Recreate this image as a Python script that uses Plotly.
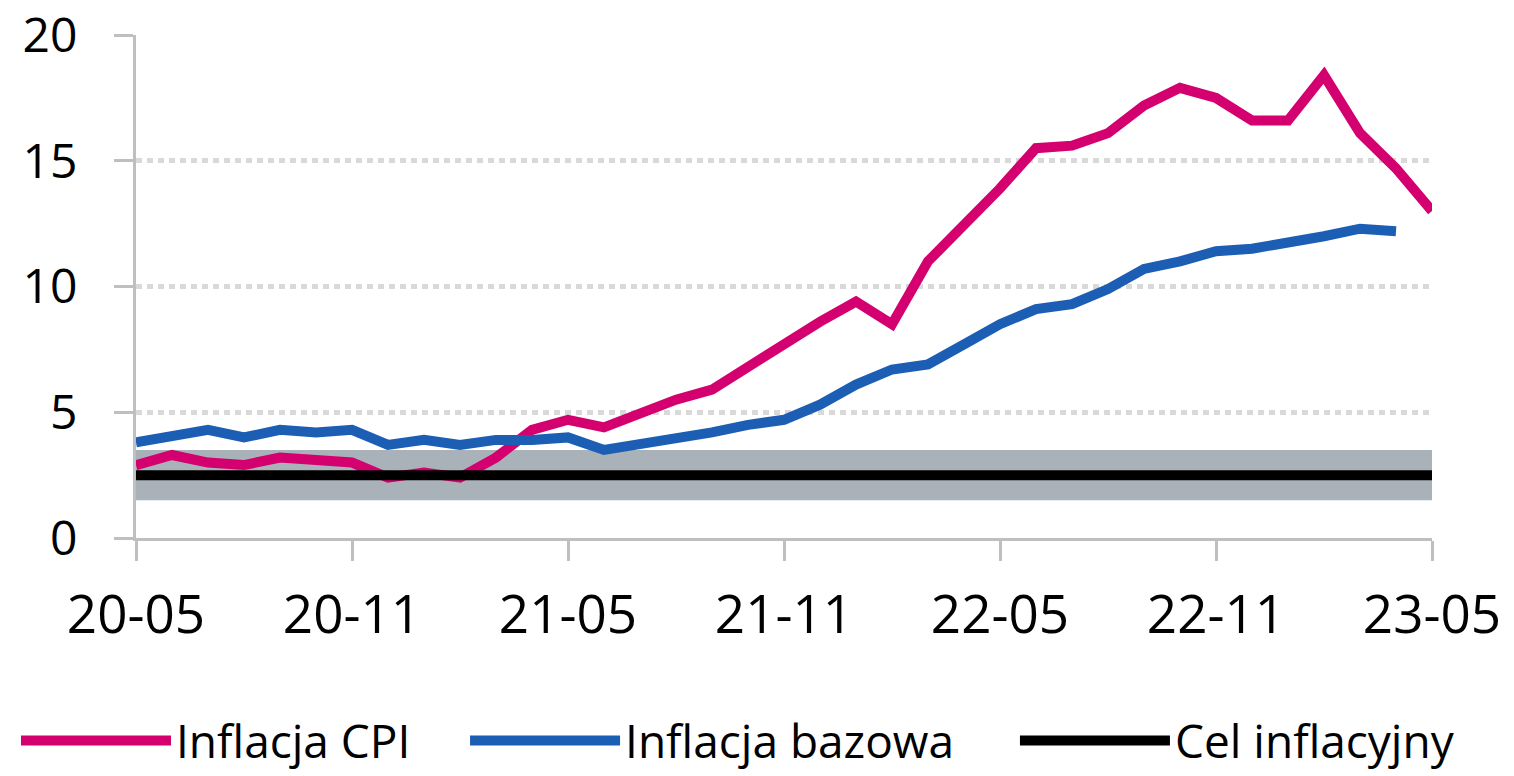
import plotly.graph_objects as go

months = ["20-05", "20-06", "20-07", "20-08", "20-09", "20-10", "20-11", "20-12",
          "21-01", "21-02", "21-03", "21-04", "21-05", "21-06", "21-07", "21-08",
          "21-09", "21-10", "21-11", "21-12", "22-01", "22-02", "22-03", "22-04",
          "22-05", "22-06", "22-07", "22-08", "22-09", "22-10", "22-11", "22-12",
          "23-01", "23-02", "23-03", "23-04", "23-05"]

cpi = [2.9, 3.3, 3.0, 2.9, 3.2, 3.1, 3.0, 2.4, 2.6, 2.4, 3.2, 4.3, 4.7, 4.4,
       5.0, 5.5, 5.9, 6.8, 7.8, 8.6, 9.4, 8.5, 11.0, 12.4, 13.9, 15.5, 15.6,
       16.1, 17.2, 17.9, 17.5, 16.6, 16.6, 18.4, 16.1, 14.7, 13.0]

core = [3.8, 4.1, 4.3, 4.0, 4.3, 4.2, 4.3, 3.7, 3.9, 3.7, 3.9, 3.9, 4.0, 3.5,
        3.7, 3.9, 4.2, 4.5, 4.7, 5.3, 6.1, 6.7, 6.9, 7.7, 8.5, 9.1, 9.3, 9.9,
        10.7, 11.0, 11.4, 11.5, 11.7, 12.0, 12.3, 12.2]

target = [2.5] * len(months)
band_low = [1.5] * len(months)
band_high = [3.5] * len(months)

tick_labels = ["20-05", "20-11", "21-05", "21-11", "22-05", "22-11", "23-05"]
y_ticks = [0, 5, 10, 15, 20]

FONT = "Open Sans"
GRID = "#D9D9D9"
AXIS = "#BFBFBF"

fig = go.Figure()

fig.add_trace(go.Scatter(x=months, y=band_low, mode="lines",
                         line=dict(width=0, color="#A9B1B9"),
                         showlegend=False, hoverinfo="skip"))
fig.add_trace(go.Scatter(x=months, y=band_high, mode="lines",
                         line=dict(width=0, color="#A9B1B9"),
                         fill="tonexty", fillcolor="#A9B1B9",
                         showlegend=False, hoverinfo="skip"))

fig.add_trace(go.Scatter(x=months, y=cpi, mode="lines", name="Inflacja CPI",
                         legend="legend",
                         line=dict(color="#D5006F", width=10)))
fig.add_trace(go.Scatter(x=months[:len(core)], y=core, mode="lines",
                         name="Inflacja bazowa", legend="legend2",
                         line=dict(color="#1C5EB4", width=10)))
fig.add_trace(go.Scatter(x=months, y=target, mode="lines",
                         name="Cel inflacyjny", legend="legend3",
                         line=dict(color="#000000", width=10)))

leg_common = dict(orientation="h", xanchor="left", y=-0.330, yanchor="top",
                  font=dict(size=46, family=FONT), itemwidth=150,
                  bgcolor="rgba(0,0,0,0)")

fig.update_layout(
    width=1506, height=768,
    margin=dict(l=128, r=82, t=27, b=238, autoexpand=False),
    paper_bgcolor="white", plot_bgcolor="white",
    font=dict(family=FONT, size=50, color="black"),
    showlegend=True,
    legend=dict(x=-0.0926, **leg_common),
    legend2=dict(x=0.2539, **leg_common),
    legend3=dict(x=0.6782, **leg_common),
)

fig.update_xaxes(
    type="category", categoryorder="array", categoryarray=months,
    range=[0, len(months) - 1],
    tickmode="array", tickvals=tick_labels, ticktext=tick_labels,
    ticks="outside", ticklen=20, tickwidth=3, tickcolor=AXIS,
    showline=True, linecolor=AXIS, linewidth=3,
    showgrid=False, zeroline=False, automargin=False,
    tickfont=dict(size=53, family=FONT),
    ticklabelstandoff=8, ticklabeloverflow="allow",
)

fig.update_yaxes(
    range=[0, 20.001], tickvals=y_ticks,
    ticks="outside", ticklen=19, tickwidth=3, tickcolor=AXIS,
    showline=True, linecolor=AXIS, linewidth=3,
    showgrid=True, gridcolor=GRID, gridwidth=5, griddash="6px,5px",
    zeroline=False, automargin=False,
    tickfont=dict(size=48, family=FONT),
    ticklabelstandoff=27, ticklabeloverflow="allow",
)

fig.write_html("out.html")
